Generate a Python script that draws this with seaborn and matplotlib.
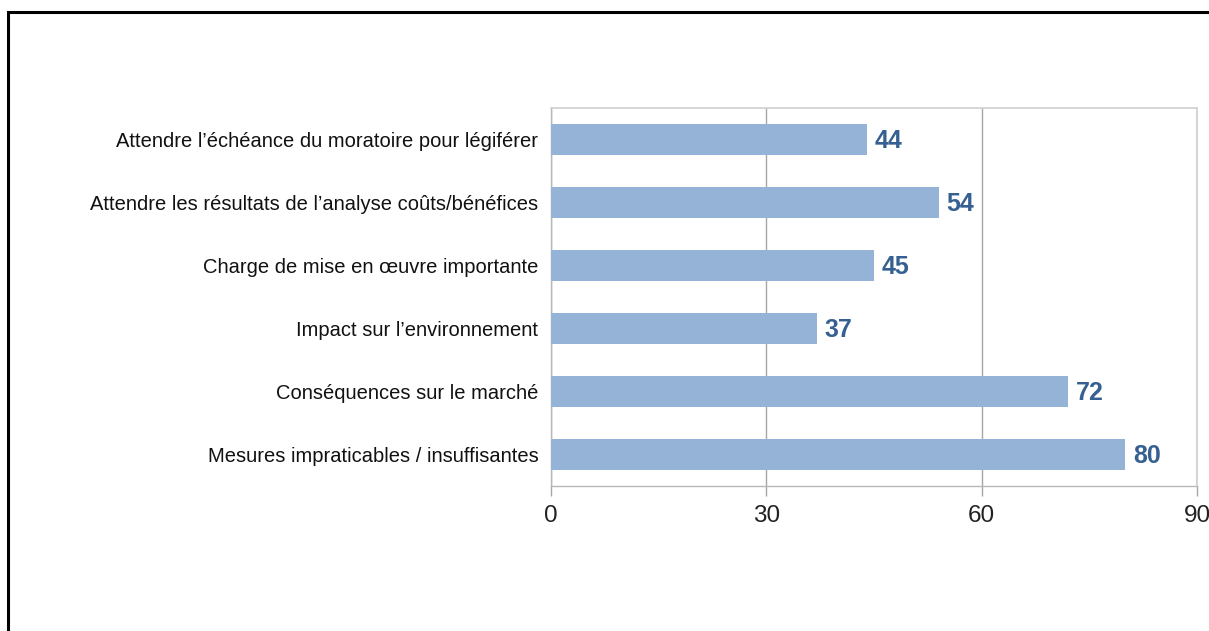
import matplotlib
matplotlib.use("Agg")
import matplotlib.pyplot as plt
import seaborn as sns
import pandas as pd
from matplotlib.patches import Rectangle

categories = [
    "Attendre l\u2019échéance du moratoire pour légiférer",
    "Attendre les résultats de l\u2019analyse coûts/bénéfices",
    "Charge de mise en œuvre importante",
    "Impact sur l\u2019environnement",
    "Conséquences sur le marché",
    "Mesures impraticables / insuffisantes",
]
values = [44, 54, 45, 37, 72, 80]
xticks = [0, 30, 60, 90]

df = pd.DataFrame({"cat": categories, "val": values})

sns.set_style("white")
plt.rcParams["font.family"] = ["Liberation Sans", "DejaVu Sans"]

fig = plt.figure(figsize=(12.09, 6.31), dpi=100)
ax = fig.add_axes([551 / 1209, 1 - 486 / 631, 646 / 1209, 378 / 631])

sns.barplot(data=df, x="val", y="cat", color="#95B3D7", saturation=1,
            width=0.5, linewidth=0, ax=ax, zorder=3)

ax.set_xlim(0, 90)
ax.set_xticks(xticks)
ax.set_xticklabels([str(t) for t in xticks], fontsize=17.5, color="#222222")
ax.tick_params(axis="x", bottom=True, direction="out", length=7,
               color="#A6A6A6", width=1, pad=7)
ax.tick_params(axis="y", length=0, labelsize=14.5, pad=9, labelcolor="#111111")
ax.set_xlabel("")
ax.set_ylabel("")
ax.xaxis.grid(True, color="#A6A6A6", linewidth=1, zorder=0)
ax.yaxis.grid(False)
for side in ["top", "right"]:
    ax.spines[side].set_color("#D0D0D0")
    ax.spines[side].set_linewidth(1.2)
for side in ["left", "bottom"]:
    ax.spines[side].set_color("#B8B8B8")
    ax.spines[side].set_linewidth(1)

for p, v in zip(ax.patches, values):
    ax.text(p.get_width() + 1.1, p.get_y() + p.get_height() / 2 + 0.03, str(v),
            va="center", ha="left", fontsize=18, fontweight="bold",
            color="#376092")

# black outer frame (cut off on right and bottom as in the source)
fig.patches.append(Rectangle((8 / 1209, -0.1), 1.2, 1 - 12 / 631 + 0.1,
                             transform=fig.transFigure, fill=False,
                             edgecolor="black", linewidth=2.2))

fig.savefig("out.png", dpi=100)
